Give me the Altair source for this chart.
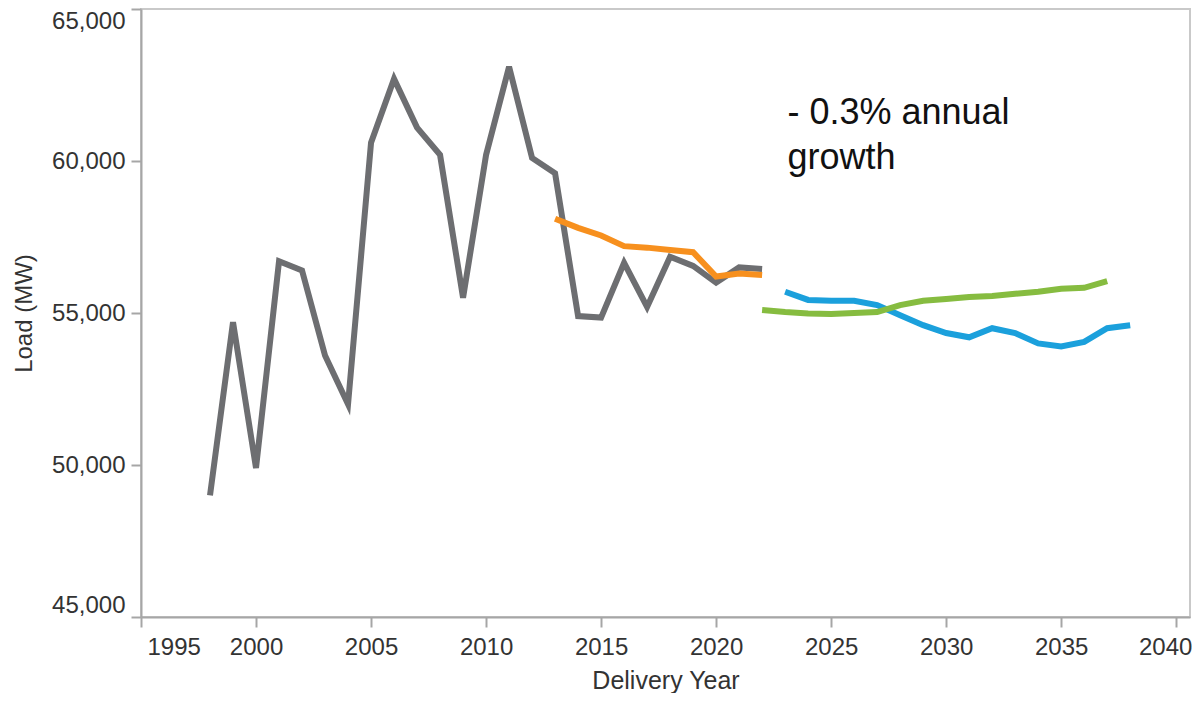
import altair as alt
import pandas as pd

# ---- data ----
hist_years = list(range(1998, 2023))
hist_load = [49000, 54700, 49900, 56700, 56400, 53600, 52000, 60600, 62700, 61100,
             60200, 55500, 60200, 63100, 60100, 59600, 54900, 54850, 56650, 55200,
             56850, 56550, 56000, 56500, 56450]

fc_old_years = list(range(2013, 2023))
fc_old_load = [58100, 57800, 57550, 57200, 57150, 57070, 57000, 56200, 56300, 56250]

fc_blue_years = list(range(2023, 2039))
fc_blue_load = [55700, 55430, 55400, 55400, 55260, 54930, 54600, 54340, 54200, 54500,
                54340, 54000, 53900, 54050, 54500, 54600]

fc_green_years = list(range(2022, 2038))
fc_green_load = [55100, 55030, 54980, 54970, 55000, 55030, 55260, 55400, 55460, 55530,
                 55560, 55630, 55700, 55800, 55830, 56050]

series_names = ["Actual", "Prior forecast", "Forecast A", "Forecast B"]
series_colors = ["#6d6e71", "#f7901e", "#1ba0dc", "#86bc40"]

x_ticks = list(range(1995, 2041, 5))
y_ticks = [45000, 50000, 55000, 60000, 65000]

note_text = ["- 0.3% annual", "growth"]
note_year = [2023.1]
note_load = [62150]

# ---- build table ----
frames = []
for name, yrs, vals in [
    (series_names[0], hist_years, hist_load),
    (series_names[1], fc_old_years, fc_old_load),
    (series_names[2], fc_blue_years, fc_blue_load),
    (series_names[3], fc_green_years, fc_green_load),
]:
    frames.append(pd.DataFrame({"year": yrs, "load": vals, "series": name}))
df = pd.concat(frames, ignore_index=True)

FONT = "Liberation Sans"

x_enc = alt.X(
    "year:Q",
    scale=alt.Scale(domain=[1995, 2040.6], nice=False, zero=False),
    axis=alt.Axis(
        values=x_ticks, format="d", title="Delivery Year",
        labelFontSize=24, titleFontSize=25, titleFontWeight="normal",
        tickSize=10, labelPadding=8,
        titleBaseline="alphabetic", titleY=71,
        labelOffset={"condition": [{"test": "datum.value === 1995", "value": 6},
                                   {"test": "datum.value === 2040", "value": -11}],
                     "value": 0},
        labelFlush=True, grid=False,
    ),
)
y_enc = alt.Y(
    "load:Q",
    scale=alt.Scale(domain=[45000, 65000], nice=False, zero=False),
    axis=alt.Axis(
        values=y_ticks, format=",d", title="Load (MW)",
        labelFontSize=24, titleFontSize=24, titleFontWeight="normal",
        tickSize=10, labelPadding=6,
        titleBaseline="alphabetic", titleX=-110,
        labelFlush=True, grid=False,
    ),
)

lines = alt.Chart(df).mark_line(strokeWidth=6, strokeJoin="miter").encode(
    x=x_enc,
    y=y_enc,
    color=alt.Color("series:N",
                    scale=alt.Scale(domain=series_names, range=series_colors),
                    legend=None),
    order="year:Q",
)

note_df = pd.DataFrame({"year": note_year, "load": note_load,
                        "label": ["\n".join(note_text)]})
note = alt.Chart(note_df).mark_text(
    align="left", baseline="top", fontSize=36, font=FONT, color="#111111",
    lineBreak="\n", lineHeight=45,
).encode(x="year:Q", y="load:Q", text="label:N")

chart = (lines + note).properties(
    width=1049, height=608,
    autosize=alt.AutoSizeParams(type="none"),
    padding={"left": 133, "top": 1, "right": 2, "bottom": 76},
).configure_view(
    stroke="#c9c9c9", strokeWidth=2,
).configure_axis(
    domainColor="#a6a6a6", domainWidth=2, tickColor="#a6a6a6", tickWidth=2,
    labelColor="#333333", titleColor="#333333", labelFont=FONT, titleFont=FONT,
)

chart.save("out.html", embed_options={"renderer": "svg", "actions": False})
